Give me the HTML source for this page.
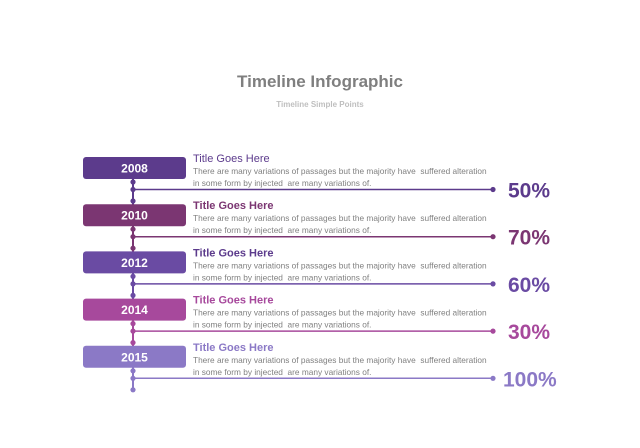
<!DOCTYPE html>
<html><head><meta charset="utf-8"><style>
body{margin:0;background:#fff;width:640px;height:443px;overflow:hidden;font-family:"Liberation Sans",sans-serif}
text{white-space:pre}
</style></head><body>
<svg id="c" width="640" height="443">
<text x="320" y="87" text-anchor="middle" font-size="17" font-weight="bold" fill="#7f7f7f">Timeline Infographic</text>
<text x="320" y="107" text-anchor="middle" font-size="8" font-weight="bold" fill="#bfbfbf">Timeline Simple Points</text>
</svg>
<script>
const years=['2008','2010','2012','2014','2015'];
const percents=[50,70,60,30,100];
const colors=['#5c3b8c','#7b3672','#6a4ba3','#a7499c','#8b79c6'];
const titleColors=['#5c3b8c','#7b3672','#5c3b8c','#a7499c','#8b79c6'];
const ns='http://www.w3.org/2000/svg',svg=document.getElementById('c');
function mk(t,a,txt){const e=document.createElementNS(ns,t);for(const k in a)e.setAttribute(k,a[k]);if(txt!=null)e.textContent=txt;svg.appendChild(e);return e;}
const y0=168,step=47.2,sx=133;
for(let i=0;i<years.length;i++){
 const cy=y0+i*step,c=colors[i],ly=cy+21.5;
 const sp=mk('line',{x1:sx,y1:cy,x2:sx,y2:i<years.length-1?cy+step:cy+34,stroke:c,'stroke-width':2});
 
 const hl=mk('line',{x1:sx,y1:ly,x2:493,y2:ly,stroke:c,'stroke-width':1.5});
 
 [[sx,ly],[493,ly],[sx,cy+14],[sx,cy+33]].forEach(p=>{const d=mk('circle',{cx:p[0],cy:p[1],r:2.6,fill:c});});
 const b=mk('rect',{x:83,y:cy-11,width:103,height:22,rx:3,fill:c});
 
 const yt=mk('text',{x:134.5,y:cy+4.5,'text-anchor':'middle','font-size':12,'font-weight':'bold',fill:'#fff'},years[i]);
 
 const tt=mk('text',{x:193,y:cy-6,'font-size':11,'font-weight':i?'bold':'normal',fill:titleColors[i]},'Title Goes Here');
 
 const d1=mk('text',{x:193,y:cy+6,'font-size':8.3,fill:'#808080'},'There are many variations of passages but the majority have  suffered alteration');
 
 const d2=mk('text',{x:193,y:cy+18,'font-size':8.3,fill:'#808080'},'in some form by injected  are many variations of.');
 
 const pt=mk('text',{x:percents[i]>=100?503:508,y:ly+8,'font-size':21,'font-weight':'bold',fill:c},percents[i]+'%');
 
}
</script>
</body></html>
